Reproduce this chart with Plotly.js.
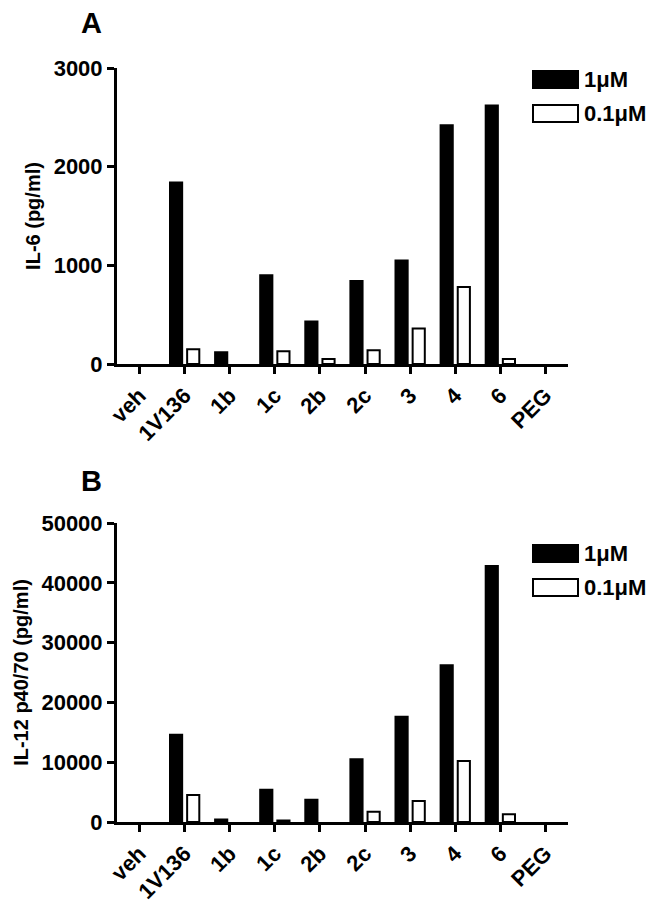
<!DOCTYPE html>
<html>
<head>
<meta charset="utf-8">
<script src="https://cdn.plot.ly/plotly-3.0.1.min.js"></script>
<style>
  body { margin: 0; background: #fff; }
  #chart { width: 661px; height: 909px; }
</style>
</head>
<body>
<div id="chart"></div>
<script>
// compounds on the x axis (same for both panels)
const compounds = ['veh', '1V136', '1b', '1c', '2b', '2c', '3', '4', '6', 'PEG'];

// panel A: IL-6 (pg/ml)
const il6High = [0, 1840, 120, 900, 430, 840, 1050, 2420, 2620, 0];
const il6Low = [0, 150, 0, 130, 50, 140, 360, 780, 50, 0];

// panel B: IL-12 p40/70 (pg/ml)
const il12High = [0, 14600, 400, 5400, 3700, 10500, 17600, 26200, 42800, 0];
const il12Low = [0, 4500, 0, 250, 0, 1700, 3500, 10200, 1300, 0];

const seriesNames = ['1\u03bcM', '0.1\u03bcM'];

const W = 661, H = 909;
const px = x => x / W;
const py = y => 1 - y / H;

const boldFont = { family: 'Liberation Sans, Arial, sans-serif', weight: 'bold', color: '#000' };

function bars(x, y, high, xa, ya) {
    return {
        type: 'bar',
        x: x,
        y: y,
        name: high ? seriesNames[0] : seriesNames[1],
        xaxis: xa,
        yaxis: ya,
        showlegend: false,
        marker: {
            color: high ? '#000' : '#fff',
            // no outline on empty bars, otherwise a stub shows on the axis
            line: { color: '#000', width: y.map(v => (v > 0 ? 2 : 0)) }
        },
        hoverinfo: 'x+y'
    };
}

const traces = [
    bars(compounds, il6High, true, 'x', 'y'),
    bars(compounds, il6Low, false, 'x', 'y'),
    bars(compounds, il12High, true, 'x2', 'y2'),
    bars(compounds, il12Low, false, 'x2', 'y2')
];

function xaxisCfg(anchor, domain) {
    return {
        domain: domain,
        anchor: anchor,
        type: 'category',
        range: [-0.5, 9.5],
        showline: true,
        linewidth: 3,
        linecolor: '#000',
        layer: 'above traces',
        ticks: 'outside',
        ticklen: 7,
        tickwidth: 3,
        tickcolor: '#000',
        tickangle: -45,
        tickfont: Object.assign({ size: 22 }, boldFont),
        showgrid: false,
        zeroline: false,
        fixedrange: true
    };
}

function yaxisCfg(anchor, domain, top, dtick, title) {
    return {
        domain: domain,
        anchor: anchor,
        range: [0, top],
        dtick: dtick,
        tick0: 0,
        tickformat: 'd',
        showline: true,
        linewidth: 3,
        linecolor: '#000',
        layer: 'above traces',
        ticks: 'outside',
        ticklen: 7,
        tickwidth: 3,
        tickcolor: '#000',
        tickfont: Object.assign({ size: 22 }, boldFont),
        showgrid: false,
        zeroline: false,
        title: { text: title, font: Object.assign({ size: 20 }, boldFont), standoff: 8 },
        fixedrange: true
    };
}

const xDomain = [px(117), px(568)];

// legend drawn as paper shapes + text to get the wide swatches
function legendItems(top) {
    const shapes = [
        { type: 'rect', xref: 'paper', yref: 'paper', x0: px(533), x1: px(578), y0: py(top), y1: py(top + 17),
          fillcolor: '#000', line: { color: '#000', width: 2 } },
        { type: 'rect', xref: 'paper', yref: 'paper', x0: px(533), x1: px(578), y0: py(top + 34), y1: py(top + 51),
          fillcolor: '#fff', line: { color: '#000', width: 2 } }
    ];
    const notes = [
        { text: seriesNames[0], x: px(582), y: py(top + 8.5) },
        { text: seriesNames[1], x: px(582), y: py(top + 42.5) }
    ].map(a => Object.assign(a, {
        xref: 'paper', yref: 'paper', xanchor: 'left', yanchor: 'middle', showarrow: false,
        font: Object.assign({ size: 22 }, boldFont)
    }));
    return { shapes, notes };
}

const legA = legendItems(71);
const legB = legendItems(545);

const panelLabels = [
    { text: 'A', x: px(91), y: py(23) },
    { text: 'B', x: px(91), y: py(481) }
].map(a => Object.assign(a, {
    xref: 'paper', yref: 'paper', xanchor: 'center', yanchor: 'middle', showarrow: false,
    font: Object.assign({ size: 29 }, boldFont)
}));

const layout = {
    width: W,
    height: H,
    margin: { l: 0, r: 0, t: 0, b: 0 },
    paper_bgcolor: '#fff',
    plot_bgcolor: '#fff',
    barmode: 'group',
    bargap: 0.24,
    bargroupgap: 0.29,
    showlegend: false,
    xaxis: xaxisCfg('y', xDomain),
    yaxis: yaxisCfg('x', [py(364), py(68)], 3000, 1000, 'IL-6 (pg/ml)'),
    xaxis2: xaxisCfg('y2', xDomain),
    yaxis2: yaxisCfg('x2', [py(822), py(523)], 50000, 10000, 'IL-12 p40/70 (pg/ml)'),
    shapes: legA.shapes.concat(legB.shapes),
    annotations: panelLabels.concat(legA.notes, legB.notes)
};

Plotly.newPlot('chart', traces, layout, { displayModeBar: false, staticPlot: true });
</script>
</body>
</html>
